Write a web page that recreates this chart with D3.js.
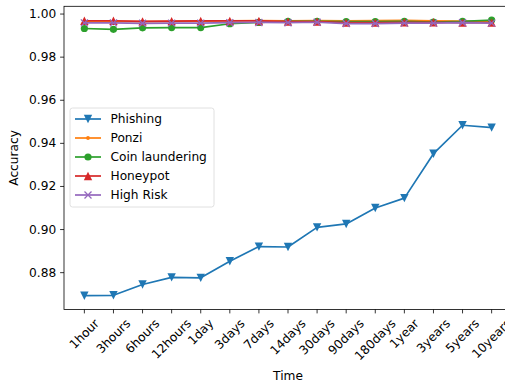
<!DOCTYPE html>
<html>
<head>
<meta charset="utf-8">
<script src="https://cdn.jsdelivr.net/npm/d3@7/dist/d3.min.js"></script>
<style>
  html, body { margin: 0; padding: 0; background: #fff; }
  svg { display: block; font-family: "DejaVu Sans", sans-serif; }
</style>
</head>
<body>
<svg id="chart" width="505" height="385"></svg>
<script>
// Time windows on the x axis
const timeLabels = ["1hour", "3hours", "6hours", "12hours", "1day", "3days", "7days", "14days",
  "30days", "90days", "180days", "1year", "3years", "5years", "10years"];

// Accuracy per detection task
const phishing = [0.8693, 0.8695, 0.8745, 0.8778, 0.8776, 0.8853, 0.8921, 0.8919,
  0.9010, 0.9026, 0.9100, 0.9146, 0.9352, 0.9484, 0.9473];
const ponzi = [0.9966, 0.9966, 0.9965, 0.9966, 0.9967, 0.9969, 0.9970, 0.9969,
  0.9970, 0.9969, 0.9970, 0.9971, 0.9968, 0.9967, 0.9966];
const coinLaundering = [0.9933, 0.9929, 0.9936, 0.9937, 0.9937, 0.9955, 0.9961, 0.9966,
  0.9966, 0.9965, 0.9965, 0.9966, 0.9963, 0.9966, 0.9972];
const honeypot = [0.9969, 0.9969, 0.9966, 0.9967, 0.9968, 0.9968, 0.9968, 0.9965,
  0.9965, 0.9960, 0.9960, 0.9962, 0.9962, 0.9960, 0.9960];
const highRisk = [0.9959, 0.9959, 0.9957, 0.9958, 0.9958, 0.9960, 0.9961, 0.9960,
  0.9962, 0.9956, 0.9956, 0.9958, 0.9958, 0.9960, 0.9958];

const yTicks = [0.88, 0.90, 0.92, 0.94, 0.96, 0.98, 1.00];

const seriesNames = ["Phishing", "Ponzi", "Coin laundering", "Honeypot", "High Risk"];
const seriesValues = [phishing, ponzi, coinLaundering, honeypot, highRisk];
const seriesColors = ["#1f77b4", "#ff7f0e", "#2ca02c", "#d62728", "#9467bd"];
const seriesMarkers = ["tri-down", "point", "circle", "tri-up", "x"];

const svg = d3.select("#chart");
const plotLeft = 64, plotRight = 512, plotTop = 6.3, plotBottom = 309.5;

// index scale with 5% padding on each side
const n = timeLabels.length;
const xPad = (n - 1) * 0.05;
const x = d3.scaleLinear().domain([-xPad, n - 1 + xPad]).range([plotLeft, plotRight]);

const allVals = seriesValues.flat();
const vMin = d3.min(allVals), vMax = d3.max(allVals);
const yPad = (vMax - vMin) * 0.05;
const y = d3.scaleLinear().domain([vMin - yPad, vMax + yPad]).range([plotBottom, plotTop]);

const fontSize = 12.2;
const tickLen = 3.9;

// clip for plot area
svg.append("defs").append("clipPath").attr("id", "plotclip")
  .append("rect").attr("x", plotLeft).attr("y", plotTop)
  .attr("width", plotRight - plotLeft).attr("height", plotBottom - plotTop);

const plot = svg.append("g").attr("clip-path", "url(#plotclip)");

const line = d3.line().x((d, i) => x(i)).y(d => y(d));

function drawMarker(g, kind, color, cx, cy) {
  const r = 3.6;
  if (kind === "circle") {
    g.append("circle").attr("cx", cx).attr("cy", cy).attr("r", r).attr("fill", color);
  } else if (kind === "point") {
    g.append("circle").attr("cx", cx).attr("cy", cy).attr("r", 1.9).attr("fill", color);
  } else if (kind === "tri-down") {
    const s = 4.2;
    g.append("path").attr("d", `M${cx - s},${cy - s}L${cx + s},${cy - s}L${cx},${cy + s}Z`).attr("fill", color);
  } else if (kind === "tri-up") {
    const s = 4.2;
    g.append("path").attr("d", `M${cx - s},${cy + s}L${cx + s},${cy + s}L${cx},${cy - s}Z`).attr("fill", color);
  } else if (kind === "x") {
    const s = 3.5;
    g.append("path").attr("d", `M${cx - s},${cy - s}L${cx + s},${cy + s}M${cx - s},${cy + s}L${cx + s},${cy - s}`)
      .attr("stroke", color).attr("stroke-width", 1.3).attr("fill", "none");
  }
}

seriesValues.forEach((vals, k) => {
  const g = plot.append("g");
  g.append("path").datum(vals).attr("d", line)
    .attr("fill", "none").attr("stroke", seriesColors[k]).attr("stroke-width", 1.7)
    .attr("stroke-linejoin", "round").attr("stroke-linecap", "square");
  vals.forEach((v, i) => drawMarker(g, seriesMarkers[k], seriesColors[k], x(i), y(v)));
});

// axes frame
svg.append("rect").attr("x", plotLeft).attr("y", plotTop)
  .attr("width", plotRight - plotLeft).attr("height", plotBottom - plotTop)
  .attr("fill", "none").attr("stroke", "#000").attr("stroke-width", 0.8);

// y axis ticks and labels
const yAxis = svg.append("g");
yTicks.forEach(t => {
  const py = y(t);
  yAxis.append("line").attr("x1", plotLeft - tickLen).attr("x2", plotLeft).attr("y1", py).attr("y2", py)
    .attr("stroke", "#000").attr("stroke-width", 0.8);
  yAxis.append("text").attr("x", plotLeft - tickLen - 3.9).attr("y", py)
    .attr("text-anchor", "end").attr("dominant-baseline", "central")
    .attr("font-size", fontSize).attr("fill", "#000").text(d3.format(".2f")(t));
});

// x axis ticks and rotated labels
const xAxis = svg.append("g");
timeLabels.forEach((lab, i) => {
  const px = x(i);
  xAxis.append("line").attr("x1", px).attr("x2", px).attr("y1", plotBottom).attr("y2", plotBottom + tickLen)
    .attr("stroke", "#000").attr("stroke-width", 0.8);
  const t = xAxis.append("text").attr("font-size", fontSize).attr("fill", "#000")
    .attr("text-anchor", "middle").attr("dominant-baseline", "central").text(lab);
  const w = t.node().getComputedTextLength();
  const h = fontSize * 0.95;
  const boxH = (w + h) * Math.SQRT1_2;
  const cy = plotBottom + tickLen + 3.9 + boxH / 2;
  t.attr("transform", `translate(${px},${cy}) rotate(-45)`);
});

// axis titles
svg.append("text").attr("x", (plotLeft + plotRight) / 2).attr("y", 376)
  .attr("text-anchor", "middle").attr("dominant-baseline", "central")
  .attr("font-size", fontSize).text("Time");
svg.append("text").attr("transform", `translate(14,${(plotTop + plotBottom) / 2}) rotate(-90)`)
  .attr("text-anchor", "middle").attr("dominant-baseline", "central")
  .attr("font-size", fontSize).text("Accuracy");

// legend
const lg = svg.append("g");
lg.append("rect").attr("x", 70).attr("y", 108).attr("width", 144).attr("height", 99)
  .attr("rx", 2.5).attr("fill", "#fff").attr("fill-opacity", 0.8)
  .attr("stroke", "#d8d8d8").attr("stroke-width", 0.8);
seriesNames.forEach((name, k) => {
  const ly = 119 + k * 19;
  lg.append("line").attr("x1", 75).attr("x2", 101).attr("y1", ly).attr("y2", ly)
    .attr("stroke", seriesColors[k]).attr("stroke-width", 1.7);
  drawMarker(lg, seriesMarkers[k], seriesColors[k], 88, ly);
  lg.append("text").attr("x", 110.5).attr("y", ly).attr("dominant-baseline", "central")
    .attr("font-size", fontSize).attr("fill", "#000").text(name);
});
</script>
</body>
</html>
